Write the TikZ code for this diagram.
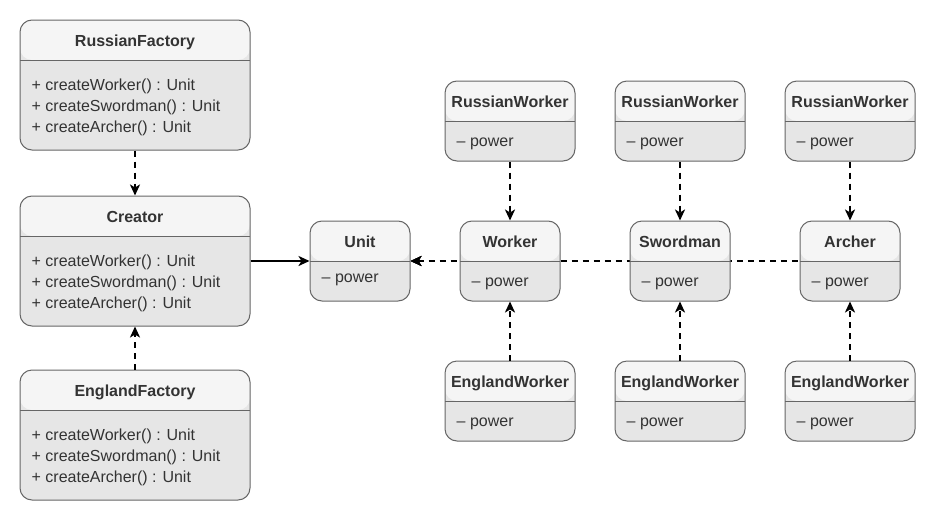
\documentclass[tikz,border=0pt]{standalone}
\usepackage{fontspec}
\setmainfont{Liberation Sans}
\usetikzlibrary{arrows.meta,backgrounds}
\definecolor{hdr}{HTML}{F5F5F5}
\definecolor{bdy}{HTML}{E6E6E6}
\definecolor{brd}{HTML}{666666}
\definecolor{txt}{HTML}{333333}
\tikzset{
  cls/.style={draw=brd, line width=1pt, rounded corners=12pt, fill=bdy, inner sep=0pt,
    path picture={
      \fill[hdr] (path picture bounding box.north west) rectangle ([yshift=-40pt]path picture bounding box.north east);
      \draw[brd, line width=1pt] ([yshift=-40pt]path picture bounding box.north west) -- ([yshift=-40pt]path picture bounding box.north east);}},
  bigbox/.style={cls, minimum width=230pt, minimum height=130pt},
  smallbox/.style={cls, minimum width=100pt, minimum height=80pt},
  wbox/.style={cls, minimum width=130pt, minimum height=80pt},
  ttl/.style={font=\fontsize{16}{19}\selectfont\bfseries, text=txt, anchor=base, inner sep=0pt},
  row/.style={font=\fontsize{16}{19}\selectfont, text=txt, anchor=base west, inner sep=0pt},
  dep/.style={draw=black, line width=2pt, dash pattern=on 6pt off 5pt, -{Stealth[length=11pt,width=10pt,inset=3pt]}},
  depr/.style={draw=black, line width=2pt, dash pattern=on 6pt off 5pt, {Stealth[length=11pt,width=10pt,inset=3pt]}-},
  assoc/.style={draw=black, line width=2pt, -{Stealth[length=11pt,width=10pt,inset=3pt]}},
}
\begin{document}
\begin{tikzpicture}[x=1pt,y=-1pt]
\useasboundingbox (0,0) rectangle (936,530);
\begin{scope}[on background layer]
  \fill[white] (0,0) rectangle (936,530);
\end{scope}

% factories
\node[bigbox] (rf) at (135,85) {};
\node[ttl] (rft) at ([yshift=-27pt]rf.north) {RussianFactory};
\node[row] (rf1) at ([xshift=12pt,yshift=-71pt]rf.north west) {+ createWorker() : Unit};
\node[row] (rf2) at ([xshift=12pt,yshift=-92pt]rf.north west) {+ createSwordman() : Unit};
\node[row] (rf3) at ([xshift=12pt,yshift=-113pt]rf.north west) {+ createArcher() : Unit};

\node[bigbox] (cr) at (135,261) {};
\node[ttl] (crt) at ([yshift=-27pt]cr.north) {Creator};
\node[row] (cr1) at ([xshift=12pt,yshift=-71pt]cr.north west) {+ createWorker() : Unit};
\node[row] (cr2) at ([xshift=12pt,yshift=-92pt]cr.north west) {+ createSwordman() : Unit};
\node[row] (cr3) at ([xshift=12pt,yshift=-113pt]cr.north west) {+ createArcher() : Unit};

\node[bigbox] (ef) at (135,435) {};
\node[ttl] (eft) at ([yshift=-27pt]ef.north) {EnglandFactory};
\node[row] (ef1) at ([xshift=12pt,yshift=-71pt]ef.north west) {+ createWorker() : Unit};
\node[row] (ef2) at ([xshift=12pt,yshift=-92pt]ef.north west) {+ createSwordman() : Unit};
\node[row] (ef3) at ([xshift=12pt,yshift=-113pt]ef.north west) {+ createArcher() : Unit};

% units
\node[smallbox] (unit) at (360,261) {};
\node[ttl] at ([yshift=-27pt]unit.north) {Unit};
\node[row] at ([xshift=12pt,yshift=-62pt]unit.north west) {– power};

\node[smallbox] (worker) at (510,261) {};
\node[ttl] at ([yshift=-27pt]worker.north) {Worker};
\node[row] at ([xshift=12pt,yshift=-66pt]worker.north west) {– power};

\node[smallbox] (sword) at (680,261) {};
\node[ttl] at ([yshift=-27pt]sword.north) {Swordman};
\node[row] at ([xshift=12pt,yshift=-66pt]sword.north west) {– power};

\node[smallbox] (archer) at (850,261) {};
\node[ttl] at ([yshift=-27pt]archer.north) {Archer};
\node[row] at ([xshift=12pt,yshift=-66pt]archer.north west) {– power};

% concrete workers
\foreach \n/\x in {rw1/510, rw2/680, rw3/850}{
  \node[wbox] (\n) at (\x,121) {};
  \node[ttl] at ([yshift=-27pt]\n.north) {RussianWorker};
  \node[row] at ([xshift=12pt,yshift=-66pt]\n.north west) {– power};
}
\foreach \n/\x in {ew1/510, ew2/680, ew3/850}{
  \node[wbox] (\n) at (\x,401) {};
  \node[ttl] at ([yshift=-27pt]\n.north) {EnglandWorker};
  \node[row] at ([xshift=12pt,yshift=-66pt]\n.north west) {– power};
}

% connectors
\draw[dep] (rf.south) -- (cr.north);
\draw[dep] (ef.north) -- (cr.south);
\draw[assoc] (cr.east) -- (unit.west);
\begin{scope}[on background layer]
  \draw[depr] (unit.east) -- (archer.west);
  \draw[depr] (unit.east) -- (sword.west);
  \draw[depr] (unit.east) -- (worker.west);
\end{scope}
\draw[dep] (rw1.south) -- (worker.north);
\draw[dep] (ew1.north) -- (worker.south);
\draw[dep] (rw2.south) -- (sword.north);
\draw[dep] (ew2.north) -- (sword.south);
\draw[dep] (rw3.south) -- (archer.north);
\draw[dep] (ew3.north) -- (archer.south);
\end{tikzpicture}
\end{document}
